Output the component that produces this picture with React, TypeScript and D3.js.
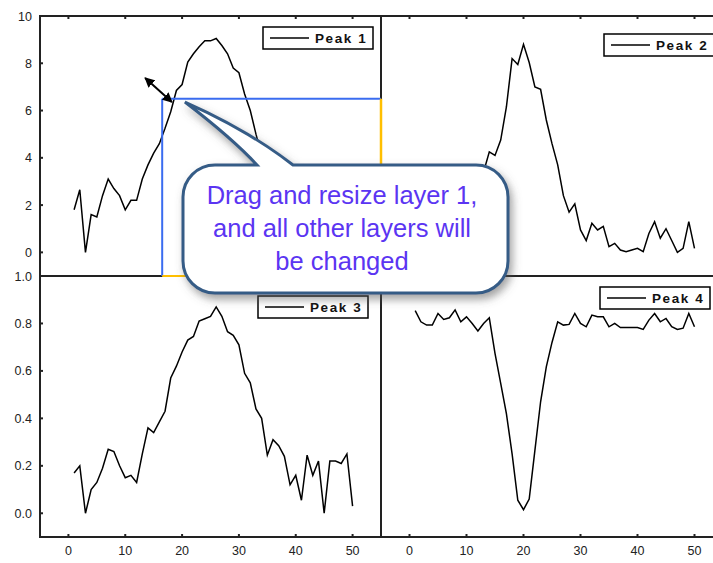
import * as d3 from 'd3';
import React from 'react';

// sample index (x) shared by all four layers
const xValues = [
  1, 2, 3, 4, 5, 6, 7, 8, 9, 10, 11, 12, 13, 14, 15, 16, 17, 18, 19, 20, 21, 22, 23, 24, 25,
  26, 27, 28, 29, 30, 31, 32, 33, 34, 35, 36, 37, 38, 39, 40, 41, 42, 43, 44, 45, 46, 47, 48, 49, 50,
];

const peak1 = [
  1.8, 2.65, 0.0, 1.6, 1.5, 2.4, 3.1, 2.7, 2.4, 1.8, 2.2, 2.2, 3.1, 3.7, 4.2, 4.6, 5.25, 5.95, 6.85,
  7.1, 8.05, 8.4, 8.7, 8.95, 8.95, 9.05, 8.75, 8.4, 7.8, 7.6, 6.7, 6.0, 5.0, 4.1, 2.6, 3.2, 2.9, 2.5,
  1.3, 1.7, 0.6, 2.5, 1.7, 2.3, 0.1, 2.3, 2.3, 2.2, 2.6, 0.3,
];

const peak2 = [
  0.3, 1.1, 0.5, 0.8, 1.3, 0.6, 1.0, 0.9, 1.4, 1.8, 2.4, 2.9, 3.4, 4.25, 4.1, 4.75, 6.15, 8.2, 7.95,
  8.8, 8.03, 7.0, 6.9, 5.6, 4.6, 3.7, 2.4, 1.7, 2.05, 0.95, 0.5, 1.23, 0.95, 1.1, 0.24, 0.38, 0.1,
  0.03, 0.1, 0.17, 0.03, 0.8, 1.3, 0.6, 1.0, 0.5, 0.0, 0.17, 1.3, 0.17,
];

const peak3 = [
  0.17, 0.2, 0.0, 0.1, 0.13, 0.19, 0.27, 0.26, 0.2, 0.15, 0.16, 0.13, 0.25, 0.36, 0.34, 0.385, 0.43,
  0.57, 0.62, 0.68, 0.73, 0.745, 0.81, 0.82, 0.83, 0.87, 0.83, 0.765, 0.75, 0.71, 0.59, 0.55, 0.44,
  0.4, 0.245, 0.31, 0.285, 0.24, 0.12, 0.16, 0.055, 0.245, 0.16, 0.22, 0.0, 0.22, 0.22, 0.21, 0.25,
  0.03,
];

const peak4 = [
  0.854, 0.807, 0.793, 0.793, 0.842, 0.817, 0.824, 0.857, 0.807, 0.828, 0.8, 0.768, 0.8, 0.824, 0.674,
  0.547, 0.42, 0.25, 0.055, 0.015, 0.06, 0.265, 0.47, 0.617, 0.72, 0.807, 0.793, 0.796, 0.842, 0.8,
  0.786, 0.835, 0.828, 0.828, 0.786, 0.8, 0.783, 0.783, 0.783, 0.783, 0.775, 0.814, 0.842, 0.807,
  0.821, 0.786, 0.775, 0.78, 0.842, 0.786,
];

const xTicks = [0, 10, 20, 30, 40, 50];
const upperYTicks = [0, 2, 4, 6, 8, 10];
const lowerYTicks = [0, 0.2, 0.4, 0.6, 0.8, 1.0];
const legendNames = ['Peak 1', 'Peak 2', 'Peak 3', 'Peak 4'];
const calloutLines = ['Drag and resize layer 1,', 'and all other layers will', 'be changed'];

// layer 1 resize box (in layer 1 data units) and the drag arrow
const selectionBox = { x0: 16.5, y0: 6.5 };
const dragArrow = { from: [13.5, 7.38], to: [18.2, 6.36] };
const pointerTip = [20.5, 6.36];

const W = 713;
const H = 563;
const cols = [
  [40, 381],
  [381, 723],
];
const rows = [
  [16, 276],
  [276, 537],
];
const xDomain: [number, number] = [-5, 55];
const upperDomain: [number, number] = [-1, 10];
const lowerDomain: [number, number] = [-0.1, 1.0];

const panels = [
  { name: legendNames[0], values: peak1, col: 0, row: 0, domain: upperDomain, legend: [263, 27] },
  { name: legendNames[1], values: peak2, col: 1, row: 0, domain: upperDomain, legend: [604, 34] },
  { name: legendNames[2], values: peak3, col: 0, row: 1, domain: lowerDomain, legend: [258, 296] },
  { name: legendNames[3], values: peak4, col: 1, row: 1, domain: lowerDomain, legend: [600, 287] },
];

const font = "'Liberation Sans', Arial, sans-serif";
const axisColor = '#222';

const Panel = ({ p }: { p: (typeof panels)[number] }) => {
  const [left, right] = cols[p.col];
  const [top, bottom] = rows[p.row];
  const x = d3.scaleLinear().domain(xDomain).range([left, right]);
  const y = d3.scaleLinear().domain(p.domain).range([bottom, top]);
  const line = d3
    .line<number>()
    .x((_, i) => x(xValues[i]))
    .y((d) => y(d));
  const yTicks = p.row === 0 ? upperYTicks : lowerYTicks;
  const fmt = p.row === 0 ? d3.format('d') : d3.format('.1f');
  const [lx, ly] = p.legend;
  const lh = 22;

  return (
    <g>
      <path d={line(p.values) ?? ''} fill="none" stroke="#000" strokeWidth={1.5} strokeLinejoin="miter" />
      <rect x={left} y={top} width={right - left} height={bottom - top} fill="none" stroke={axisColor} strokeWidth={2} />
      {p.row === 0 &&
        xTicks.map((t) => (
          <line key={'tt' + t} x1={x(t)} x2={x(t)} y1={top} y2={top + 3} stroke={axisColor} strokeWidth={2} />
        ))}
      {p.row === 1 &&
        xTicks.map((t) => (
          <g key={'bt' + t}>
            <line x1={x(t)} x2={x(t)} y1={bottom} y2={bottom - 3} stroke={axisColor} strokeWidth={2} />
            <text x={x(t)} y={bottom + 18} textAnchor="middle" fontSize={12.5} fontFamily={font} fill="#222">
              {t}
            </text>
          </g>
        ))}
      {p.col === 0 &&
        yTicks.map((t) => (
          <g key={'yt' + t}>
            <line x1={left} x2={left + 3} y1={y(t)} y2={y(t)} stroke={axisColor} strokeWidth={2} />
            <text x={left - 8} y={y(t) + 4.5} textAnchor="end" fontSize={12.5} fontFamily={font} fill="#222">
              {fmt(t)}
            </text>
          </g>
        ))}
      <rect x={lx} y={ly} width={110} height={lh} fill="#fff" stroke="#000" strokeWidth={1.5} />
      <line x1={lx + 7} x2={lx + 46} y1={ly + lh / 2} y2={ly + lh / 2} stroke="#000" strokeWidth={1.5} />
      <text
        x={lx + 52}
        y={ly + lh / 2 + 5}
        fontSize={13.5}
        fontWeight="bold"
        letterSpacing={1.6}
        fontFamily={font}
        fill="#111"
      >
        {p.name}
      </text>
    </g>
  );
};

export default function App() {
  // layer 1 scales, used for the resize annotations
  const x1 = d3.scaleLinear().domain(xDomain).range(cols[0]);
  const y1 = d3.scaleLinear().domain(upperDomain).range([rows[0][1], rows[0][0]]);

  const sx = x1(selectionBox.x0);
  const sy = y1(selectionBox.y0);
  const ex = cols[0][1];
  const ey = rows[0][1];

  // callout bubble
  const L = 183;
  const T = 165;
  const R = 508;
  const B = 293;
  const r = 32;
  const tipX = x1(pointerTip[0]);
  const tipY = y1(pointerTip[1]);
  const bubble = [
    `M${L + r},${T}`,
    `L257,${T}`,
    `Q232,138 ${tipX},${tipY}`,
    `Q248,130 293,${T}`,
    `L${R - r},${T}`,
    `A${r},${r} 0 0 1 ${R},${T + r}`,
    `L${R},${B - r}`,
    `A${r},${r} 0 0 1 ${R - r},${B}`,
    `L${L + r},${B}`,
    `A${r},${r} 0 0 1 ${L},${B - r}`,
    `L${L},${T + r}`,
    `A${r},${r} 0 0 1 ${L + r},${T}`,
    'Z',
  ].join(' ');

  return (
    <div style={{ position: 'absolute', left: 0, top: 0 }}>
      <svg width={W} height={H} style={{ display: 'block', background: '#fff' }}>
        <defs>
          <marker
            id="arrowHead"
            viewBox="0 0 10 10"
            refX={9}
            refY={5}
            markerWidth={10}
            markerHeight={10}
            markerUnits="userSpaceOnUse"
            orient="auto-start-reverse"
          >
            <path d="M0,0 L10,5 L0,10 z" fill="#000" />
          </marker>
          <filter id="bubbleShadow" x="-10%" y="-10%" width="130%" height="140%">
            <feDropShadow dx={3} dy={5} stdDeviation={4} floodColor="#555" floodOpacity={0.55} />
          </filter>
        </defs>

        {panels.map((p) => (
          <Panel key={p.name} p={p} />
        ))}

        {/* resize outline of layer 1 */}
        <line x1={sx} x2={ex} y1={sy} y2={sy} stroke="#3a6cf0" strokeWidth={2} />
        <line x1={sx} x2={sx} y1={sy} y2={ey} stroke="#3a6cf0" strokeWidth={2} />
        <line x1={ex} x2={ex} y1={sy} y2={ey} stroke="#ffbf00" strokeWidth={2.5} />
        <line x1={sx} x2={ex} y1={ey} y2={ey} stroke="#ffbf00" strokeWidth={2} />

        <line
          x1={x1(dragArrow.from[0])}
          y1={y1(dragArrow.from[1])}
          x2={x1(dragArrow.to[0])}
          y2={y1(dragArrow.to[1])}
          stroke="#000"
          strokeWidth={2}
          markerStart="url(#arrowHead)"
          markerEnd="url(#arrowHead)"
        />

        <path d={bubble} fill="#fff" stroke="#365b86" strokeWidth={3} filter="url(#bubbleShadow)" />
        {calloutLines.map((s, i) => (
          <text
            key={s}
            x={342}
            y={204 + i * 33}
            textAnchor="middle"
            fontSize={25.5}
            fontFamily={font}
            fill="#5b35f2"
          >
            {s}
          </text>
        ))}
      </svg>
    </div>
  );
}
